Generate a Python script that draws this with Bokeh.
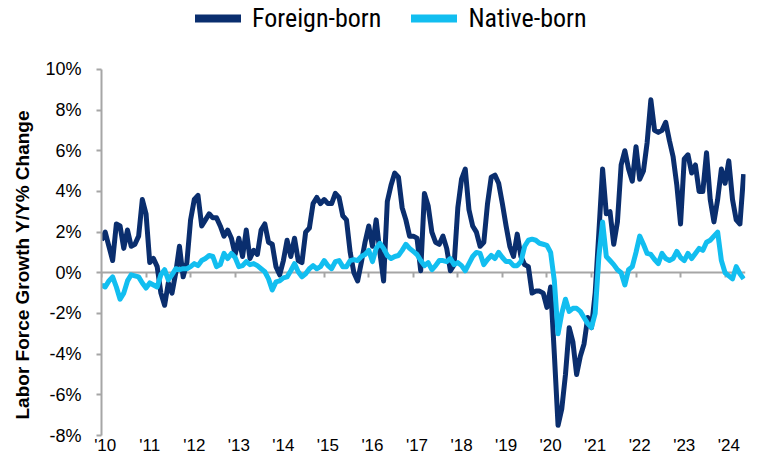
import numpy as np
from bokeh.plotting import figure
from bokeh.models import (Range1d, LinearAxis, FixedTicker, PrintfTickFormatter,
                          Legend, LegendItem, Title)
from bokeh.embed import file_html
from bokeh.resources import INLINE

# Monthly Y/Y % change, Jan 2010 - Jun 2024
foreign_born = [
    1.6, 2.0, 1.3, 0.6, 2.4, 2.3, 1.2, 2.1, 1.3, 1.4, 1.8, 3.6,
    2.9, 0.5, 0.7, 0.3, -1.0, -1.6, -0.5, -1.0, 0.0, 1.3, -0.2, 0.5,
    2.6, 3.6, 3.8, 2.3, 2.6, 2.9, 2.7, 2.7, 2.3, 1.8, 2.1, 1.7,
    0.9, 1.7, 0.8, 2.1, 0.7, 1.1, 0.9, 2.1, 2.4, 1.5, 1.4, 0.3,
    -0.1, 0.6, 1.6, 0.8, 1.7, 0.6, 0.5, 2.0, 2.2, 3.4, 3.7, 3.4,
    3.6, 3.4, 3.4, 3.9, 3.7, 2.8, 2.6, 1.0, 0.0, -0.4, 0.5, 1.5,
    2.3, 1.3, 2.6, 1.0, -0.4, 3.5, 4.3, 4.9, 4.7, 3.2, 2.6, 1.8,
    1.8, 1.7, 0.1, 3.9, 3.3, 2.0, 1.5, 1.4, 1.8, 1.2, 0.1, 0.4,
    3.2, 4.6, 5.1, 3.1, 2.3, 2.0, 1.3, 1.5, 3.4, 4.7, 4.8, 4.4,
    3.4, 2.3, 1.3, 0.8, 1.9, 0.8, 0.4, 0.3, -1.0, -0.9, -0.9, -1.0,
    -1.7, -0.7, -4.0, -7.5, -6.7, -5.0, -2.7, -3.4, -5.0, -4.1, -3.5, -2.2,
    -2.7, -1.0, 2.0, 5.1, 2.9, 3.0, 1.4, 2.5, 5.3, 6.0, 5.1, 4.5,
    6.2, 4.6, 5.0, 6.4, 8.5, 7.0, 6.9, 7.0, 7.4, 6.5, 5.7, 4.3,
    2.4, 5.6, 5.8, 4.9, 5.3, 4.0, 4.0, 5.9, 3.6, 2.5, 3.6, 5.1,
    4.4, 5.5, 3.6, 2.6, 2.4, 4.85,
]
native_born = [
    -0.6, -0.7, -0.4, -0.2, -0.7, -1.3, -1.0, -0.4, -0.1, -0.15, -0.2, -0.5,
    -0.75, -0.5, -0.6, -0.7, -0.1, 0.15, -0.35, -0.1, 0.2, 0.15, 0.2, 0.2,
    0.3, 0.45, 0.35, 0.6, 0.7, 0.85, 0.8, 0.3, 0.4, 0.95, 0.7, 0.95,
    0.75, 0.3, 0.35, 0.55, 0.4, 0.45, 0.35, 0.2, 0.05, -0.3, -0.85, -0.45,
    -0.4, -0.25, -0.2, 0.1, 0.45, 0.05, -0.2, -0.05, 0.2, 0.35, 0.2, 0.3,
    0.6, 0.35, 0.2, 0.55, 0.6, 0.3, 0.3, 0.6, 0.65, 0.6, 0.8, 0.9,
    1.1, 0.55, 1.2, 1.45, 1.2, 0.85, 0.7, 0.8, 0.85, 1.1, 1.4, 1.2,
    1.05, 0.9, 0.6, 0.35, 0.5, 0.15, 0.35, 0.6, 0.6, 0.55, 0.7, 0.4,
    0.5, 0.35, 0.1, 0.45, 0.8, 1.0, 0.95, 0.4, 0.65, 0.85, 0.7, 1.0,
    0.75, 0.55, 0.55, 0.35, 0.35, 0.55, 1.3, 1.6, 1.65, 1.6, 1.45, 1.4,
    1.35, 1.0, -0.4, -3.0, -2.0, -1.3, -1.9, -1.75, -1.75, -1.9, -2.2, -2.5,
    -2.7, -2.0, 0.8, 2.5, 0.8, 0.6, 0.4, 0.15, 0.0, -0.6, 0.15, 0.3,
    1.0, 1.8, 1.4, 0.95, 0.9, 0.65, 0.45, 0.95, 0.7, 0.6, 0.7, 1.05,
    0.75, 0.6, 0.95, 0.7, 0.95, 1.2, 1.1, 1.5, 1.6, 1.8, 2.0, 0.6,
    0.0, -0.15, -0.3, 0.3, -0.05, -0.3,
]
year_labels = ["'10", "'11", "'12", "'13", "'14", "'15", "'16", "'17",
               "'18", "'19", "'20", "'21", "'22", "'23", "'24"]
y_ticks = [-8, -6, -4, -2, 0, 2, 4, 6, 8, 10]

NAVY = "#0A2E6E"
CYAN = "#12BEF0"
AXIS_GRAY = "#A6A6A6"
FONT = "Liberation Sans"

months = np.arange(len(foreign_born))
year_starts = [12 * i for i in range(len(year_labels))]
label_pos = [s + 1 for s in year_starts]

# frame spans the full height above the x labels; the value axis is bounded
# to -8%..10% so the legend has room above it, inside the frame
FRAME_BOTTOM = 436
TOP_GAP = 69
y_lo, y_hi = y_ticks[0], y_ticks[-1]
y_top = y_hi + TOP_GAP * (y_hi - y_lo) / (FRAME_BOTTOM - TOP_GAP)

p = figure(width=746, height=457, output_backend="svg", toolbar_location=None,
           x_range=Range1d(0, len(foreign_born) - 0.5), y_range=Range1d(y_lo, y_top),
           x_axis_type=None, y_axis_type=None,
           min_border_left=100, min_border_right=1, min_border_top=0, min_border_bottom=20)
p.outline_line_color = None
p.background_fill_color = "white"
p.border_fill_color = "white"

yax = LinearAxis(ticker=FixedTicker(ticks=y_ticks), bounds=(y_lo, y_hi),
                 formatter=PrintfTickFormatter(format="%d%%"),
                 major_label_text_font=FONT,
                 major_label_text_font_size="18px",
                 major_label_text_color="black",
                 major_label_standoff=15,
                 major_tick_out=5, major_tick_in=0,
                 minor_tick_out=0, minor_tick_in=0,
                 axis_line_color=AXIS_GRAY, axis_line_width=2,
                 major_tick_line_color=AXIS_GRAY, major_tick_line_width=2)
p.add_layout(yax, "left")

ytitle = Title(text="Labor Force Growth Y/Y% Change", align="left", offset=16,
               standoff=19, text_font=FONT, text_font_style="bold",
               text_font_size="19px", text_color="black")
p.add_layout(ytitle, "left")

zax = LinearAxis(fixed_location=0, ticker=FixedTicker(ticks=year_starts),
                 major_label_overrides={s: "" for s in year_starts},
                 major_label_text_font_size="1px",
                 major_tick_out=5, major_tick_in=0,
                 minor_tick_out=0, minor_tick_in=0,
                 axis_line_color=AXIS_GRAY, axis_line_width=2,
                 major_tick_line_color=AXIS_GRAY, major_tick_line_width=2,
                 level="underlay")
p.add_layout(zax, "below")

lax = LinearAxis(ticker=FixedTicker(ticks=label_pos),
                 major_label_overrides=dict(zip(label_pos, year_labels)),
                 major_label_text_font=FONT,
                 major_label_text_font_size="17px",
                 major_label_text_color="black",
                 major_label_standoff=0,
                 axis_line_color=None, major_tick_line_color=None,
                 minor_tick_line_color=None, major_tick_out=0, major_tick_in=0)
p.add_layout(lax, "below")

p.line(months, foreign_born, line_color=NAVY, line_width=5, line_join="round")
p.line(months, native_born, line_color=CYAN, line_width=5, line_join="round")

# legend-only swatches (no visible points) drawn thicker, as in the original
lf = p.line([np.nan], [np.nan], line_color=NAVY, line_width=8, line_cap="round")
ln = p.line([np.nan], [np.nan], line_color=CYAN, line_width=8, line_cap="round")
legend = Legend(items=[LegendItem(label="Foreign-born", renderers=[lf]),
                       LegendItem(label="Native-born", renderers=[ln])],
                orientation="horizontal", location=(94, 402),
                glyph_width=46, glyph_height=24, label_standoff=11, spacing=30,
                padding=0, margin=0, border_line_color=None,
                background_fill_alpha=0,
                label_text_font="'Liberation Sans Narrow', 'Roboto Condensed', Roboto",
                label_text_font_size="26px",
                label_text_color="black")
p.add_layout(legend, "center")

open("out.html", "w").write(file_html(p, INLINE))
